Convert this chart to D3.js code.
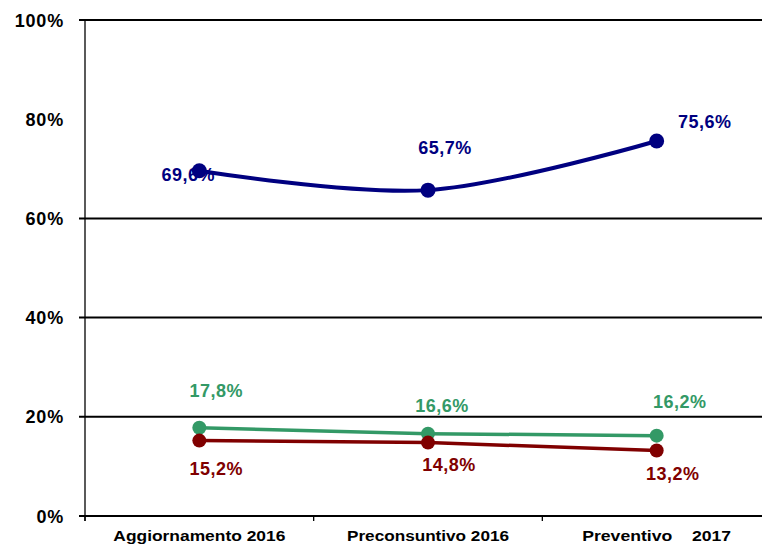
<!DOCTYPE html>
<html>
<head>
<meta charset="utf-8">
<script src="https://cdn.jsdelivr.net/npm/d3@7"></script>
<style>
  html, body { margin: 0; padding: 0; background: #fff; }
  svg { display: block; font-family: Arial, "Liberation Sans", sans-serif; }
</style>
</head>
<body>
<svg id="chart" width="762" height="546"></svg>
<script>
// ---- data ----
const categories = ["Aggiornamento 2016", "Preconsuntivo 2016", "Preventivo    2017"];
const seriesBlue  = [69.6, 65.7, 75.6];
const seriesGreen = [17.8, 16.6, 16.2];
const seriesRed   = [15.2, 14.8, 13.2];
const yTickValues = [0, 20, 40, 60, 80, 100];
const gridValues  = [0, 20, 40, 60, 100];

// ---- layout / style ----
const svg = d3.select("#chart");
const mLeft = 85, mRight = 771, mTop = 20, mBottom = 516;

const x = d3.scaleBand().domain(categories).range([mLeft, mRight]).padding(0);
const y = d3.scaleLinear().domain([0, 100]).range([mBottom, mTop]);
const cx = c => x(c) + x.bandwidth() / 2;

const fmt = v => d3.format(".1f")(v).replace(".", ",") + "%";

const series = [
  { name: "blue",  values: seriesBlue,  color: "#000080", width: 4, r: 7.5, curve: d3.curveCardinal.tension(0),
    offsets: [[-11, 10], [17, -36], [48, -13]] },
  { name: "green", values: seriesGreen, color: "#339966", width: 3.5, r: 7, curve: d3.curveLinear,
    offsets: [[17, -31], [14, -22], [23, -28]] },
  { name: "red",   values: seriesRed,   color: "#800000", width: 3.5, r: 7, curve: d3.curveLinear,
    offsets: [[17, 34], [21, 28], [16, 29]] }
];

// gridlines
svg.append("g").selectAll("line").data(gridValues).join("line")
  .attr("x1", mLeft - 6).attr("x2", 762)
  .attr("y1", d => y(d)).attr("y2", d => y(d))
  .attr("stroke", "#000").attr("stroke-width", 2);

// y axis line
svg.append("line")
  .attr("x1", mLeft).attr("x2", mLeft).attr("y1", mTop).attr("y2", mBottom + 5)
  .attr("stroke", "#000").attr("stroke-width", 1.3);

// y tick labels
svg.append("g").selectAll("text").data(yTickValues).join("text")
  .attr("x", 64).attr("y", d => y(d) + 6.5)
  .attr("text-anchor", "end")
  .attr("font-size", 18).attr("font-weight", "bold")
  .attr("letter-spacing", 0.8)
  .text(d => d + "%");

// x ticks
const xTickPos = categories.map(c => x(c));
svg.append("g").selectAll("line").data(xTickPos).join("line")
  .attr("x1", d => d).attr("x2", d => d)
  .attr("y1", mBottom).attr("y2", mBottom + 5)
  .attr("stroke", "#000").attr("stroke-width", 1.3);

// x labels
const xLabelWidths = [172, 162, 149];
svg.append("g").selectAll("text").data(categories).join("text")
  .attr("x", d => cx(d)).attr("y", 541)
  .attr("text-anchor", "middle")
  .attr("font-size", 14.5).attr("font-weight", "bold")
  .attr("textLength", (d, i) => xLabelWidths[i])
  .attr("lengthAdjust", "spacingAndGlyphs")
  .style("white-space", "pre")
  .text(d => d);

// series
series.forEach(s => {
  const g = svg.append("g");
  const line = d3.line().x((d, i) => cx(categories[i])).y(d => y(d)).curve(s.curve);
  g.append("path").datum(s.values)
    .attr("d", line).attr("fill", "none")
    .attr("stroke", s.color).attr("stroke-width", s.width);
  g.selectAll("text").data(s.values).join("text")
    .attr("x", (d, i) => cx(categories[i]) + s.offsets[i][0])
    .attr("y", (d, i) => y(d) + s.offsets[i][1])
    .attr("text-anchor", "middle")
    .attr("font-size", 18).attr("font-weight", "bold")
    .attr("letter-spacing", 0.5)
    .attr("fill", s.color)
    .text(d => fmt(d));
  g.selectAll("circle").data(s.values).join("circle")
    .attr("cx", (d, i) => cx(categories[i]))
    .attr("cy", d => y(d))
    .attr("r", s.r).attr("fill", s.color);
});
</script>
</body>
</html>
